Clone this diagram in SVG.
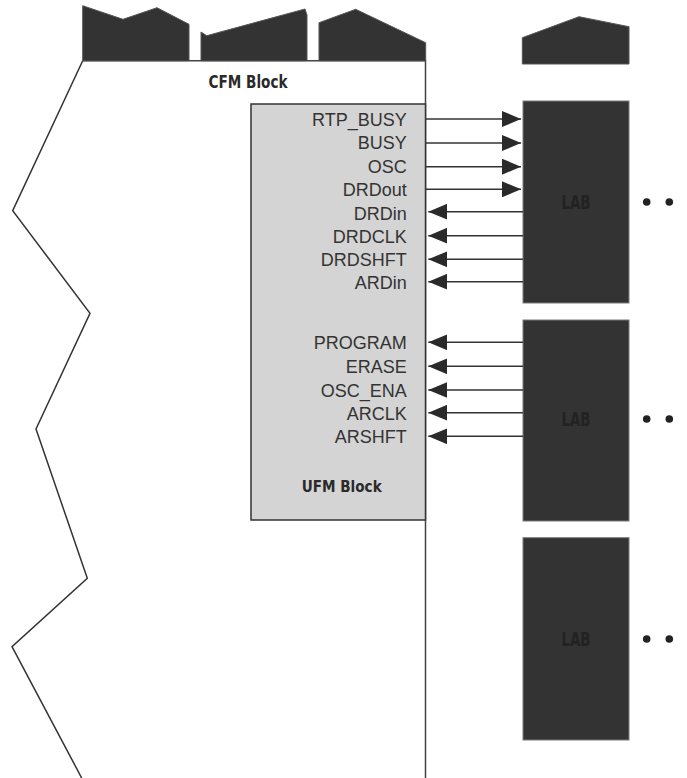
<svg xmlns="http://www.w3.org/2000/svg" width="687" height="778" viewBox="0 0 687 778">
<style>
.dark{fill:#333333;stroke:#555555;stroke-width:1}
.edge{fill:none;stroke:#333333;stroke-width:1.5;stroke-linejoin:miter}
.ufm{fill:#d4d4d4;stroke:#333333;stroke-width:1.5}
.lab{fill:#333333;stroke:#7a7a7a;stroke-width:1}
.sig{font-family:"Liberation Sans",Arial,sans-serif;font-size:18px;fill:#333333;text-anchor:end}
.bold{font-family:"Liberation Sans Narrow","DejaVu Sans Condensed","Liberation Sans",sans-serif;font-weight:bold;fill:#2a2a2a;text-anchor:middle}
.labt{font-family:"Liberation Sans Narrow","DejaVu Sans Condensed","Liberation Sans",sans-serif;font-weight:bold;font-size:19px;fill:#222222;text-anchor:middle}
.wire{stroke:#333333;stroke-width:1.5;fill:none;marker-end:url(#ah)}
.dot{fill:#222222}
</style>
<defs>
<marker id="ah" markerUnits="userSpaceOnUse" viewBox="0 0 19 16" refX="19" refY="8" markerWidth="19" markerHeight="16" orient="auto">
<path d="M0,0 L19,8 L0,16 Z" fill="#2a2a2a"/>
</marker>
</defs>

<g id="cfm-top">
<polygon class="dark" points="82.7,60.7 82.7,5.7 123,19.3 157,7.7 189,24.3 189,60.7"/>
<polygon class="dark" points="201,60.7 201,32 206.7,35.7 305,9 307,15 307,60.7"/>
<polygon class="dark" points="319,60.7 319,22.7 355.7,9.3 425.7,42.7 425.7,60.7"/>
</g>

<g id="cfm-block">
<path class="edge" d="M82.7,60.7 L12.7,210.7 L90,313.3 L36,429 L87.3,578.3 L12,646.7 L81.7,778"/>
<path class="edge" d="M82.7,60.7 H425.5 V778" style="stroke:#444"/>
<text class="bold" x="248" y="87.7" font-size="18" textLength="79" lengthAdjust="spacingAndGlyphs">CFM Block</text>
</g>

<g id="ufm-block">
<rect class="ufm" x="251" y="104" width="174.5" height="416"/>
<text class="sig" x="406.7" y="125.7">RTP_BUSY</text>
<text class="sig" x="406.7" y="149">BUSY</text>
<text class="sig" x="406.7" y="172.7">OSC</text>
<text class="sig" x="406.7" y="195.7">DRDout</text>
<text class="sig" x="406.7" y="219.5">DRDin</text>
<text class="sig" x="406.7" y="243">DRDCLK</text>
<text class="sig" x="406.7" y="266">DRDSHFT</text>
<text class="sig" x="406.7" y="288.5">ARDin</text>
<text class="sig" x="406.7" y="349.3">PROGRAM</text>
<text class="sig" x="406.7" y="373.3">ERASE</text>
<text class="sig" x="406.7" y="397">OSC_ENA</text>
<text class="sig" x="406.7" y="419.5">ARCLK</text>
<text class="sig" x="406.7" y="443.3">ARSHFT</text>
<text class="bold" x="341.7" y="491.7" font-size="16.5" textLength="80" lengthAdjust="spacingAndGlyphs">UFM Block</text>
</g>

<g id="lab-top">
<polygon class="dark" points="522.3,64 522.3,37.7 579,16.7 629,26.7 629,64"/>
</g>

<g id="lab1">
<rect class="lab" x="523" y="101" width="106" height="202"/>
<text class="labt" x="576" y="209" textLength="29" lengthAdjust="spacingAndGlyphs">LAB</text>
<circle class="dot" cx="646.7" cy="202" r="3.8"/>
<circle class="dot" cx="669.3" cy="202" r="3.8"/>
</g>

<g id="lab2">
<rect class="lab" x="523" y="320" width="106" height="201"/>
<text class="labt" x="576" y="426" textLength="29" lengthAdjust="spacingAndGlyphs">LAB</text>
<circle class="dot" cx="646.7" cy="419" r="3.8"/>
<circle class="dot" cx="669.3" cy="419" r="3.8"/>
</g>

<g id="lab3">
<rect class="lab" x="523" y="537.7" width="106" height="202.3"/>
<text class="labt" x="576" y="646" textLength="29" lengthAdjust="spacingAndGlyphs">LAB</text>
<circle class="dot" cx="646.7" cy="639" r="3.8"/>
<circle class="dot" cx="669.3" cy="639" r="3.8"/>
</g>

<g id="connectors">
<line class="wire" x1="426" y1="119" x2="521" y2="119"/>
<line class="wire" x1="426" y1="143" x2="521" y2="143"/>
<line class="wire" x1="426" y1="166.7" x2="521" y2="166.7"/>
<line class="wire" x1="426" y1="189.3" x2="521" y2="189.3"/>
<line class="wire" x1="523" y1="211.7" x2="428.3" y2="211.7"/>
<line class="wire" x1="523" y1="235.7" x2="428.3" y2="235.7"/>
<line class="wire" x1="523" y1="259.3" x2="428.3" y2="259.3"/>
<line class="wire" x1="523" y1="281.7" x2="428.3" y2="281.7"/>
<line class="wire" x1="523" y1="342.3" x2="428.3" y2="342.3"/>
<line class="wire" x1="523" y1="366.3" x2="428.3" y2="366.3"/>
<line class="wire" x1="523" y1="390" x2="428.3" y2="390"/>
<line class="wire" x1="523" y1="412.7" x2="428.3" y2="412.7"/>
<line class="wire" x1="523" y1="436.3" x2="428.3" y2="436.3"/>
</g>
</svg>
